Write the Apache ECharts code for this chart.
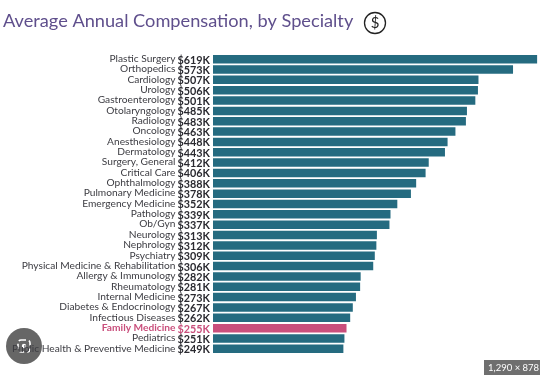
<!DOCTYPE html>
<html>
<head>
<meta charset="utf-8">
<style>
  html, body { margin: 0; padding: 0; background: #fff; }
  #chart { width: 540px; height: 375px; }
</style>
<script src="https://cdn.jsdelivr.net/npm/echarts@6/dist/echarts.min.js"></script>
</head>
<body>
<div id="chart"></div>
<script>
const specialties = [
  'Plastic Surgery', 'Orthopedics', 'Cardiology', 'Urology', 'Gastroenterology',
  'Otolaryngology', 'Radiology', 'Oncology', 'Anesthesiology', 'Dermatology',
  'Surgery, General', 'Critical Care', 'Ophthalmology', 'Pulmonary Medicine',
  'Emergency Medicine', 'Pathology', 'Ob/Gyn', 'Neurology', 'Nephrology',
  'Psychiatry', 'Physical Medicine & Rehabilitation', 'Allergy & Immunology',
  'Rheumatology', 'Internal Medicine', 'Diabetes & Endocrinology',
  'Infectious Diseases', 'Family Medicine', 'Pediatrics',
  'Public Health & Preventive Medicine'
];
const compensation = [
  619, 573, 507, 506, 501, 485, 483, 463, 448, 443, 412, 406, 388, 378, 352,
  339, 337, 313, 312, 309, 306, 282, 281, 273, 267, 262, 255, 251, 249
];
const highlighted = 'Family Medicine';

const TEAL = '#256b80';
const PINK = '#c94f7c';
const font = 'Lato, "Open Sans", sans-serif';

const chart = echarts.init(document.getElementById('chart'), null, { renderer: 'canvas' });

chart.setOption({
  animation: false,
  backgroundColor: '#fff',
  textStyle: { fontFamily: font },
  grid: { left: 213, right: 0, top: 54, height: 300 },
  xAxis: { type: 'value', min: 0, max: 624.5, show: false },
  yAxis: {
    type: 'category',
    inverse: true,
    z: 10,
    data: specialties,
    axisLine: { show: false },
    axisTick: { show: false },
    axisLabel: {
      interval: 0,
      margin: 37.5,
      fontFamily: font,
      fontSize: 10.2,
      // family medicine is the one bold row on the left
      formatter: (v) => (v === highlighted ? '{hl|' + v + '}' : '{n|' + v + '}'),
      rich: {
        n: { color: '#3c3c42', fontFamily: font, fontSize: 10.2, padding: [0, 0, 1, 0] },
        hl: { color: PINK, fontFamily: font, fontSize: 10.2, fontWeight: 700, padding: [0, 0, 1, 0] }
      }
    }
  },
  series: [{
    type: 'bar',
    barWidth: 8.5,
    data: compensation.map((v, i) => ({
      value: v,
      itemStyle: { color: specialties[i] === highlighted ? PINK : TEAL },
      label: { color: specialties[i] === highlighted ? PINK : '#2a2a30' }
    })),
    label: {
      show: true,
      position: 'left',
      distance: 3,
      offset: [0, 1],
      formatter: (p) => '$' + p.value + 'K',
      fontFamily: font,
      fontWeight: 700,
      fontSize: 10.8
    }
  }],
  graphic: [
    {
      type: 'text', left: 3, top: 12, z: 50,
      style: {
        text: 'Average Annual Compensation, by Specialty',
        fontFamily: font, fontSize: 18.2, fill: '#5f4f8c'
      }
    },
    {
      type: 'circle', z: 50,
      shape: { cx: 375, cy: 23, r: 10.5 },
      style: { fill: '#fff', stroke: '#222', lineWidth: 1.3 }
    },
    {
      type: 'text', z: 51, x: 375, y: 23,
      style: {
        text: '$', fontFamily: font, fontSize: 15, fill: '#222',
        align: 'center', verticalAlign: 'middle'
      }
    },
    // lens badge, drawn under the axis label so "Public" reads across it
    {
      type: 'circle', z: 1,
      shape: { cx: 24, cy: 346, r: 18 },
      style: { fill: '#666' }
    },
    {
      type: 'rect', z: 1,
      shape: { x: 18, y: 340, width: 12, height: 12, r: 3 },
      style: { fill: 'none', stroke: '#fff', lineWidth: 1.6, lineDash: [5, 3] }
    },
    {
      type: 'circle', z: 1,
      shape: { cx: 24, cy: 346, r: 2.2 },
      style: { fill: '#fff' }
    },
    // image size chip, bottom right
    {
      type: 'rect', z: 60,
      shape: { x: 484, y: 360, width: 56, height: 15 },
      style: { fill: '#6f6f6f' }
    },
    {
      type: 'text', z: 61, x: 488, y: 368,
      style: {
        text: '1,290 × 878', fontFamily: font, fontSize: 9.5,
        fill: '#fff', verticalAlign: 'middle'
      }
    }
  ]
});
</script>
</body>
</html>
